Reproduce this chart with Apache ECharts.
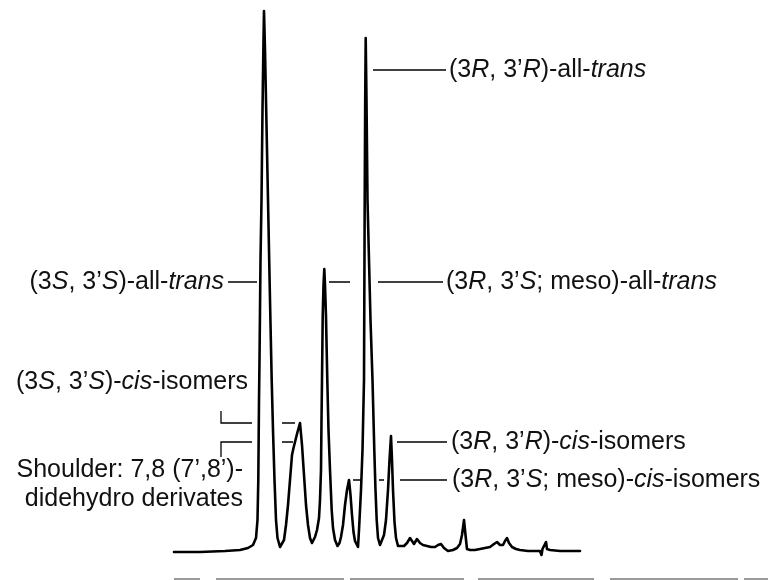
<!DOCTYPE html>
<html><head><meta charset="utf-8">
<script src="https://cdn.jsdelivr.net/npm/echarts@6/dist/echarts.min.js"></script>
<style>html,body{margin:0;padding:0;background:#fff}#c{width:768px;height:580px}</style>
</head><body><div id="c"></div>
<script>
// Chromatogram trace: retention (arbitrary units) and detector signal (arbitrary units)
const retention = [0,26,51,66,74,79,82,83.5,84.3,85,85.5,86.5,87.5,88.5,89.5,90,91,92,93,94,96,97.7,99,100.5,102,103.5,106,
  108,110,112,114,116,118,119.5,121,123.5,126,128,130,132,134,136,138,
  141,143,145,146,147,147.5,148,148.7,149.5,150.3,151,152,153.3,154.5,156,157.7,159,161,163.5,
  165.5,167,169,171,173,175,176.5,178,179.5,181,184,
  185,187,188.5,190,190.7,191.2,191.7,192.5,193.5,196.5,198.5,200.3,201.5,202.7,204,206,
  208,210,212,214,215.5,217,218,219,220.5,222,224,
  226,230,233,236,238,240,243,246,249,253,257,261,264,267,270,274,279,283,286,288,290,291.5,293,296,301,306,311,316,320,323,326,329,331,333,335,338,342,346,354,363,366,367.5,368.5,370,372,373,376,386,396,406];
const signal = [0,0,1,2,4,7,14,32,72,152,192,292,352,442,512,541,502,452,402,352,252,172,122,72,32,14,5,
  5,12,27,47,72,97,104,110,120,129,107,77,47,27,14,9,
  15,22,34,52,82,132,172,235,267,283,267,235,172,122,82,42,24,12,6,
  9,15,27,47,62,72,57,37,20,11,5,
  22,62,102,172,352,452,514,452,352,232,172,102,62,32,14,7,
  9,17,32,62,92,116,92,62,30,14,6,
  6,6,9,14,12,8,13,9,7,6,5,5,7,8,4,1,2,4,8,17,32,17,3,2,2,3,4,5,8,10,7,7,11,14,9,5,3,2,1,1,1,-3,3,1,10,3,2,1,1,1];

// Peak annotations (text with *italic* parts), anchor in data units
const labelTexts = [
  '(3*R*, 3’*R*)-all-*trans*',
  '(3*S*, 3’*S*)-all-*trans*',
  '(3*R*, 3’*S*; meso)-all-*trans*',
  '(3*S*, 3’*S*)-*cis*-isomers',
  'Shoulder: 7,8 (7’,8’)-',
  'didehydro derivates',
  '(3*R*, 3’*R*)-*cis*-isomers',
  '(3*R*, 3’*S*; meso)-*cis*-isomers'
];
const labelX = [275, 50, 272, 74, 69, 69, 277, 278];
const labelY = [482, 270, 270, 170, 82, 53, 110, 72];
const labelAlign = ['left','right','left','right','right','right','left','left'];

// Leader lines (polylines in data units)
const leaderLines = [
  [[199,482],[272,482]],
  [[54,270],[83,270]],
  [[155,270],[176,270]],
  [[204,270],[269,270]],
  [[47,141],[47,129],[78,129]],
  [[108,129],[121,129]],
  [[47,95],[47,110],[78,110]],
  [[108,110],[119,110]],
  [[223,110],[273,110]],
  [[179,72],[187,72]],
  [[205,72],[210,72]],
  [[226,72],[273,72]]
];

const FONT = "'Liberation Sans', Arial, Helvetica, sans-serif";
const FS = 25;

const chart = echarts.init(document.getElementById('c'), null, {renderer: 'canvas'});
chart.setOption({
  animation: false,
  backgroundColor: '#fff',
  grid: {left: 174, right: 188, top: 7, bottom: 23},
  xAxis: {type: 'value', min: 0, max: 406, show: false},
  yAxis: {type: 'value', min: -5, max: 545, show: false},
  series: [
    {
      type: 'line',
      data: retention.map((x, i) => [x, signal[i]]),
      showSymbol: false,
      smooth: false,
      lineStyle: {color: '#000', width: 2.6, join: 'round', cap: 'round'},
      z: 3
    },
    {
      type: 'lines',
      coordinateSystem: 'cartesian2d',
      polyline: true,
      data: leaderLines.map(c => ({coords: c})),
      lineStyle: {color: '#000', width: 1.3, opacity: 1},
      z: 2
    }
  ]
});

function richText(s) {
  const parts = s.split('*');
  return parts.map((p, i) => p ? '{' + (i % 2 ? 'i' : 'n') + '|' + p + '}' : '').join('');
}
const rich = {
  n: {fontSize: FS, fontFamily: FONT, fill: '#111'},
  i: {fontSize: FS, fontFamily: FONT, fontStyle: 'italic', fill: '#111'}
};
const texts = labelTexts.map((t, k) => {
  const p = chart.convertToPixel({gridIndex: 0}, [labelX[k], labelY[k]]);
  return {
    type: 'text', x: p[0], y: p[1], silent: true,
    style: {text: richText(t), rich: rich, align: labelAlign[k], verticalAlign: 'middle',
            fontSize: FS, fontFamily: FONT, fill: '#111'}
  };
});
// faint scan edge at the bottom of the figure
const edgeSegs = [[174,200],[216,344],[350,464],[478,594],[610,738],[744,768]];
const edges = edgeSegs.map(s => ({
  type: 'line', silent: true,
  shape: {x1: s[0], y1: 579, x2: s[1], y2: 579},
  style: {stroke: '#9a9a9a', lineWidth: 2}
}));
chart.setOption({graphic: texts.concat(edges)});
</script>
</body></html>
